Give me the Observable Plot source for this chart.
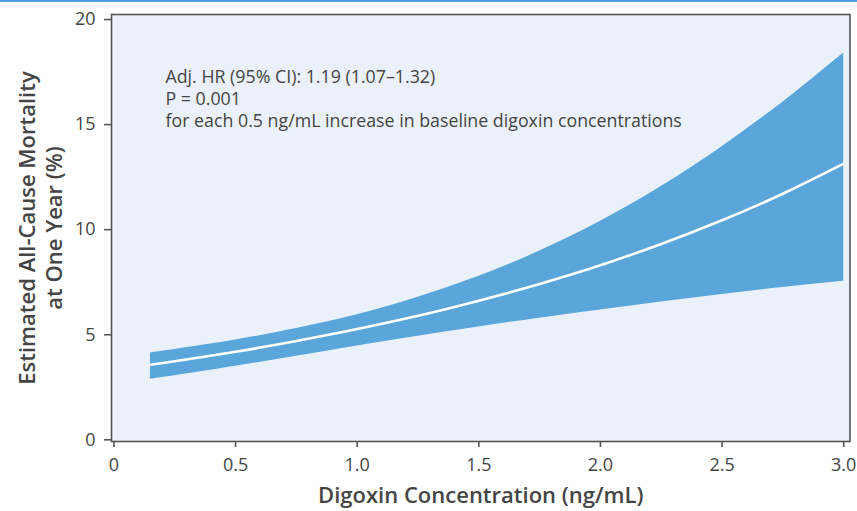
<!DOCTYPE html>
<html>
<head>
<meta charset="utf-8">
<script src="https://cdn.jsdelivr.net/npm/d3@7"></script>
<script src="https://cdn.jsdelivr.net/npm/@observablehq/plot@0.6"></script>
<style>
  html, body { margin: 0; padding: 0; background: #fff; }
  #topline { position: absolute; left: 0; top: 0; width: 857px; height: 2px; background: #4aa0dc; }
  #chart { position: absolute; left: 0; top: 0; }
</style>
</head>
<body>
<div id="chart"></div>
<div id="topline"></div>
<script>
// Digoxin concentration (ng/mL)
const concentration = [0.15, 0.25, 0.5, 0.75, 1.0, 1.25, 1.5, 1.75, 2.0, 2.25, 2.5, 2.75, 3.0];
// Estimated all-cause mortality at one year (%)
const estimate = [3.57, 3.74, 4.19, 4.70, 5.27, 5.90, 6.62, 7.42, 8.31, 9.32, 10.45, 11.71, 13.14];
const lower95  = [2.89, 3.05, 3.50, 3.98, 4.47, 4.93, 5.37, 5.79, 6.18, 6.56, 6.92, 7.25, 7.55];
const upper95  = [4.14, 4.30, 4.75, 5.30, 5.95, 6.78, 7.78, 8.98, 10.40, 12.05, 13.95, 16.07, 18.41];

const xTicks = [0, 0.5, 1.0, 1.5, 2.0, 2.5, 3.0];
const xTickLabels = ["0", "0.5", "1.0", "1.5", "2.0", "2.5", "3.0"];
const yTicks = [0, 5, 10, 15, 20];

const xTitle = "Digoxin Concentration (ng/mL)";
const yTitle = "Estimated All-Cause Mortality\nat One Year (%)";
const annotation = "Adj. HR (95% CI): 1.19 (1.07\u20131.32)\nP = 0.001\nfor each 0.5 ng/mL increase in baseline digoxin concentrations";

const data = concentration.map((c, i) => ({c, est: estimate[i], lo: lower95[i], hi: upper95[i]}));

const font = "'Open Sans', 'Noto Sans', sans-serif";
const textColor = "#454545";

const chart = Plot.plot({
  width: 857,
  height: 511,
  marginLeft: 111,
  marginRight: 7.5,
  marginTop: 14,
  marginBottom: 70,
  style: { fontFamily: font, fontSize: "18px", color: textColor, background: "transparent" },
  x: { domain: [-0.01, 3.026] },
  y: { domain: [-0.08, 20.24] },
  marks: [
    Plot.frame({ fill: "#eaf1fa", stroke: null }),
    Plot.areaY(data, { x: "c", y1: "lo", y2: "hi", fill: "#5aa6da", curve: "natural" }),
    Plot.lineY(data, { x: "c", y: "est", stroke: "#ffffff", strokeWidth: 2.6, curve: "natural" }),
    Plot.frame({ stroke: "#555", strokeWidth: 1.6 }),
    Plot.axisX(xTicks, {
      tickSize: 6, tickPadding: 11, stroke: "#555", strokeWidth: 1.6,
      tickFormat: (d, i) => xTickLabels[i], fontSize: 18, fill: textColor,
      label: null
    }),
    Plot.axisY(yTicks, {
      tickSize: 7, tickPadding: 9, stroke: "#555", strokeWidth: 1.6,
      fontSize: 18, fill: textColor, label: null
    }),
    Plot.text([xTitle], {
      frameAnchor: "bottom", dy: 54, fontSize: 22, fontWeight: 600, fill: textColor, lineAnchor: "middle"
    }),
    Plot.text([yTitle], {
      frameAnchor: "left", dx: -72, rotate: -90, fontSize: 22, fontWeight: 600, fill: textColor,
      textAnchor: "middle", lineAnchor: "middle", lineHeight: 1.25
    }),
    Plot.text([annotation], {
      frameAnchor: "top-left", dx: 54, dy: 53, fontSize: 17.8, fill: textColor,
      textAnchor: "start", lineAnchor: "top", lineHeight: 1.24
    })
  ]
});
document.getElementById("chart").append(chart);
</script>
</body>
</html>
